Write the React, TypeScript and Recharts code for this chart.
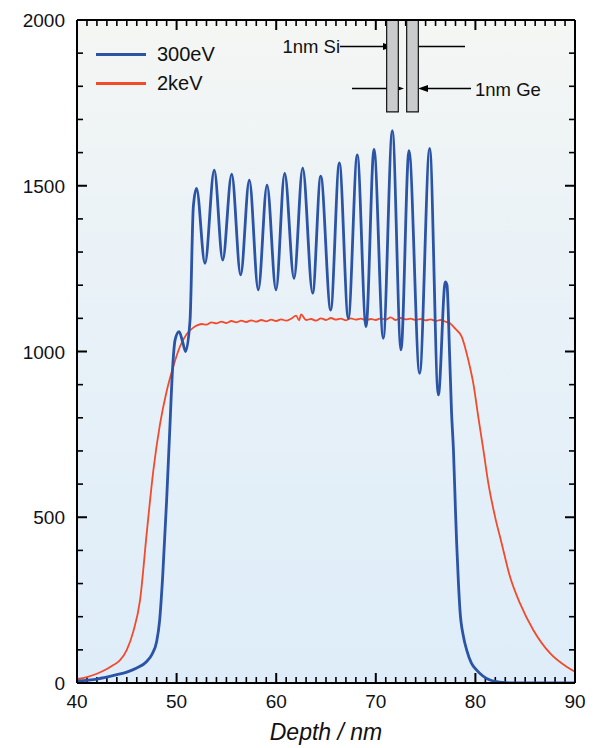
import { Customized, Legend, Line, LineChart, ReferenceArea, XAxis, YAxis } from "recharts";

// 300 eV profile (blue)
const depth300 = [
    40, 42, 44, 45, 46, 47, 47.5, 48, 48.3, 48.6, 49, 49.3, 49.6, 49.85, 50.25, 50.6, 50.9, 51.35, 51.68,
    52.0, 52.85, 53.78, 54.63, 55.53, 56.43, 57.3, 58.2, 59.08, 59.98, 60.85, 61.79, 62.66, 63.66, 64.47,
    65.47, 66.34, 67.24, 68.14, 69.02, 69.82, 70.75, 71.66, 72.53, 73.33, 74.4, 75.41, 76.28, 76.98, 77.15,
    77.4, 77.6, 77.8, 78.0, 78.12, 78.3, 78.45, 78.8, 79.12, 79.6, 80.13, 81.47, 82.7, 84, 90,
];
const counts300 = [
    6, 12, 25, 33, 45, 65, 85, 125, 190, 320, 552, 754, 950, 1035, 1060, 1030, 1000, 1095, 1437,
    1492, 1266, 1547, 1276, 1535, 1231, 1517, 1186, 1502, 1186, 1537, 1221, 1553, 1176, 1529,
    1125, 1569, 1100, 1593, 1075, 1610, 1040, 1666, 1005, 1606, 934, 1613, 869, 1210, 1200,
    1000, 820, 700, 520, 421, 300, 220, 140, 100, 60, 39, 9, 2, 0, 0,
];

// 2 keV profile (red)
const depth2k = [
    40, 41, 42, 43, 43.65, 44.3, 45, 45.65, 46.33, 47, 47.66, 48.33, 49, 49.67, 50.34, 51, 51.68,
    52, 52.5, 53, 53.5, 54, 54.5, 55, 55.5, 56, 56.5, 57, 57.5, 58, 58.5, 59, 59.5, 60, 60.5, 61, 61.5,
    62, 62.3, 62.5, 63, 63.5, 64, 64.5, 65, 65.5, 66, 66.5, 67, 67.5, 68, 68.5, 69, 69.5, 70, 70.5, 71,
    71.5, 72, 72.5, 73, 73.5, 74, 74.5, 75, 75.5, 76, 76.5, 77, 77.45, 78.0, 78.62, 79.29, 79.79, 80.29,
    80.8, 81.3, 81.97, 82.64, 83.47, 84.48, 85.81, 87.49, 89.16, 90,
];
const counts2k = [
    12, 18, 28, 42, 54, 68, 100, 155, 250, 452, 640, 780, 880, 955, 1015, 1052, 1072,
    1078, 1083, 1081, 1088, 1085, 1090, 1086, 1092, 1088, 1093, 1089, 1094, 1090, 1095, 1091, 1096, 1092, 1097, 1093, 1099,
    1108, 1094, 1112, 1095, 1098, 1093, 1100, 1095, 1101, 1096, 1099, 1094, 1100, 1096, 1099, 1094, 1098, 1095, 1100, 1096,
    1103, 1095, 1101, 1097, 1099, 1095, 1098, 1094, 1097, 1092, 1095, 1090, 1085, 1068, 1045, 974, 904, 803,
    703, 602, 502, 421, 321, 240, 160, 90, 49, 34,
];

const xLabels = [40, 50, 60, 70, 80, 90];
const yLabels = [0, 500, 1000, 1500, 2000];
const xMinor = Array.from({ length: 51 }, (_, i) => 40 + i);
const yMinor = Array.from({ length: 21 }, (_, i) => i * 100);

const series300 = depth300.map((d, i) => ({ depth: d, counts: counts300[i] }));
const series2k = depth2k.map((d, i) => ({ depth: d, counts: counts2k[i] }));

const FONT = "'Liberation Sans', Arial, Helvetica, sans-serif";
const BLUE = "#2b53a6";
const RED = "#f24a2a";
const FRAME = { stroke: "#000", strokeWidth: 2 };

// plot box, fixed by the chart margins and axis sizes below
const PL = 77, PR = 575, PT = 20, PB = 683;
const px = (v: number) => PL + ((v - 40) / 50) * (PR - PL);
const py = (v: number) => PB - (v / 2000) * (PB - PT);

function XLabel({ x, y, payload }: any) {
    return (
        <text x={x} y={y + 25} textAnchor="middle" fontSize={19} fontFamily={FONT} fill="#111">
            {payload.value}
        </text>
    );
}

function YLabel({ x, y, payload }: any) {
    return (
        <text x={x - 12} y={y + 7} textAnchor="end" fontSize={19} fontFamily={FONT} fill="#111">
            {payload.value}
        </text>
    );
}

// inward tick marks on all four sides
function TickMarks() {
    return (
        <g stroke="#000">
            {xMinor.map((v) => {
                const major = xLabels.includes(v);
                const l = major ? 10 : 6;
                const x = px(v);
                return (
                    <g key={"x" + v} strokeWidth={major ? 2 : 1.6}>
                        <line x1={x} x2={x} y1={PB} y2={PB - l} />
                        <line x1={x} x2={x} y1={PT} y2={PT + l} />
                    </g>
                );
            })}
            {yMinor.map((v) => {
                const major = yLabels.includes(v);
                const l = major ? 10 : 6;
                const y = py(v);
                return (
                    <g key={"y" + v} strokeWidth={major ? 2 : 1.6}>
                        <line x1={PL} x2={PL + l} y1={y} y2={y} />
                        <line x1={PR} x2={PR - l} y1={y} y2={y} />
                    </g>
                );
            })}
        </g>
    );
}

function Arrow({ from, to, y }: { from: number; to: number; y: number }) {
    const dir = to > from ? 1 : -1;
    return (
        <g>
            <line x1={from} x2={to - dir * 6} y1={y} y2={y} stroke="#000" strokeWidth={1.3} />
            <polygon points={`${to},${y} ${to - dir * 10},${y - 3.5} ${to - dir * 10},${y + 3.5}`} fill="#000" />
        </g>
    );
}

// layer sketch in the top corner
function LayerSketch() {
    return (
        <g fontFamily={FONT} fontSize={18.5} fill="#111">
            <text x={340} y={53} textAnchor="end">1nm Si</text>
            <Arrow from={340} to={393} y={46.5} />
            <Arrow from={465} to={408} y={46.5} />
            <Arrow from={352} to={404} y={88.5} />
            <Arrow from={471} to={418} y={88.5} />
            <text x={475} y={95.5}>1nm Ge</text>
        </g>
    );
}

function LegendBox() {
    const rows = [
        { name: "300eV", color: BLUE },
        { name: "2keV", color: RED },
    ];
    return (
        <div style={{ fontFamily: FONT, fontSize: 20, color: "#111" }}>
            {rows.map((r) => (
                <div key={r.name} style={{ display: "flex", alignItems: "center", height: 29 }}>
                    <span style={{ display: "inline-block", width: 50, height: 3, background: r.color, marginRight: 11 }} />
                    <span>{r.name}</span>
                </div>
            ))}
        </div>
    );
}

const xCommon = { type: "number" as const, domain: [40, 90], interval: 0, allowDataOverflow: true, tickSize: 0, tickMargin: 0, tickLine: false };
const yCommon = { type: "number" as const, domain: [0, 2000], interval: 0, allowDataOverflow: true, tickSize: 0, tickMargin: 0, tickLine: false };

export default function App() {
    return (
        <div style={{ position: "absolute", left: 0, top: 0, width: 606, height: 748, background: "#fff" }}>
            {/* plot background, sits behind the transparent svg */}
            <div
                style={{
                    position: "absolute",
                    left: PL,
                    top: PT,
                    width: PR - PL,
                    height: PB - PT,
                    background: "linear-gradient(#f4f6f3 0%, #eaf2f7 35%, #deedf9 100%)",
                }}
            />
            <div style={{ position: "absolute", left: 0, top: 0 }}>
                <LineChart width={606} height={748} margin={{ top: 19, right: 30, left: 0, bottom: 0 }}>
                    <XAxis
                        {...xCommon}
                        dataKey="depth"
                        ticks={xLabels}
                        height={65}
                        axisLine={FRAME}
                        tick={<XLabel />}
                        label={{ value: "Depth / nm", position: "insideBottom", offset: 8, fontSize: 23, fontStyle: "italic", fontFamily: FONT, fill: "#111" }}
                    />
                    <XAxis {...xCommon} xAxisId="top" orientation="top" ticks={xLabels} height={1} axisLine={FRAME} tick={false} />
                    <YAxis {...yCommon} ticks={yLabels} width={77} axisLine={FRAME} tick={<YLabel />} />
                    <YAxis {...yCommon} yAxisId="right" orientation="right" ticks={yLabels} width={1} axisLine={FRAME} tick={false} />
                    <ReferenceArea x1={71.09} x2={72.26} y1={1723} y2={2000} fill="#c9cbcc" fillOpacity={1} stroke="#111" strokeWidth={1.2} ifOverflow="visible" />
                    <ReferenceArea x1={73.1} x2={74.27} y1={1723} y2={2000} fill="#c9cbcc" fillOpacity={1} stroke="#111" strokeWidth={1.2} ifOverflow="visible" />
                    <Line data={series2k} dataKey="counts" type="monotone" stroke={RED} strokeWidth={1.8} dot={false} isAnimationActive={false} />
                    <Line data={series300} dataKey="counts" type="monotone" stroke={BLUE} strokeWidth={2.8} dot={false} isAnimationActive={false} />
                    <Customized component={<TickMarks />} />
                    <Customized component={<LayerSketch />} />
                    <Legend
                        layout="vertical"
                        align="center"
                        verticalAlign="middle"
                        wrapperStyle={{ left: 96, top: 40, width: 160, height: 58 }}
                        content={() => <LegendBox />}
                    />
                </LineChart>
            </div>
        </div>
    );
}
